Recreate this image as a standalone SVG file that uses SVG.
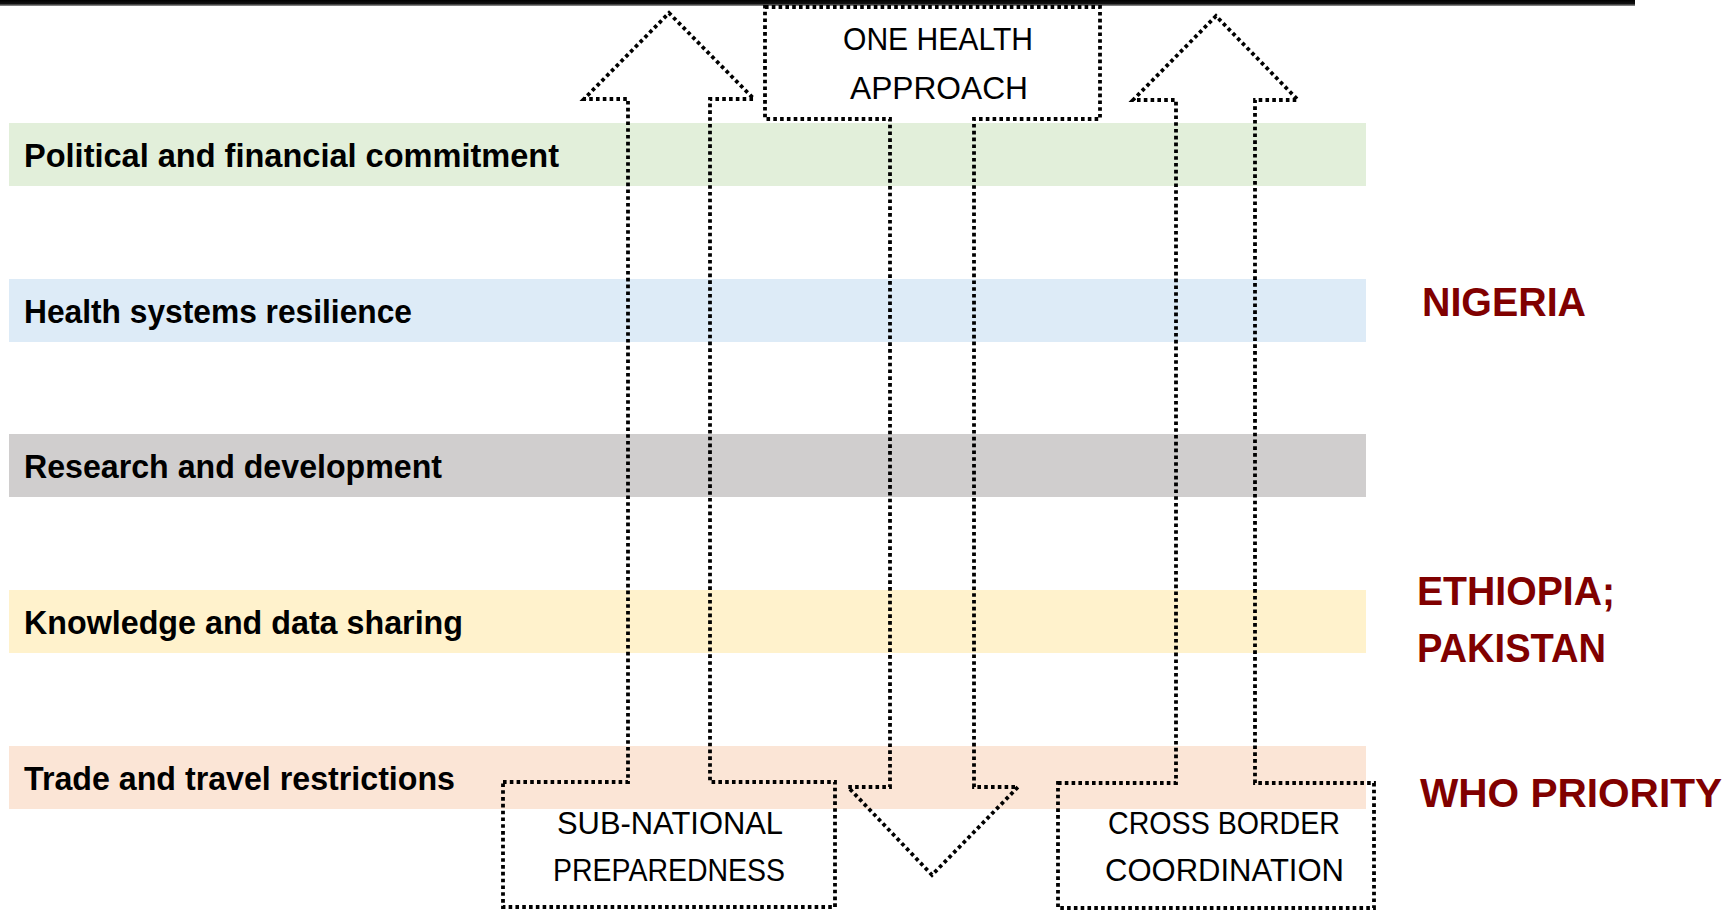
<svg xmlns="http://www.w3.org/2000/svg" width="1728" height="912" viewBox="0 0 1728 912">
  <defs>
    <linearGradient id="topline" x1="0" y1="0" x2="0" y2="1">
      <stop offset="0" stop-color="#000000"/>
      <stop offset="0.6" stop-color="#111111"/>
      <stop offset="1" stop-color="#9a9a9a"/>
    </linearGradient>
  </defs>
  <style>
    .band-label { font-family: "Liberation Sans", Arial, sans-serif; font-weight: bold; font-size: 34px; fill: #000000; }
    .country { font-family: "Liberation Sans", Arial, sans-serif; font-weight: bold; font-size: 41px; fill: #800000; }
    .callout { fill: none; stroke: #000000; stroke-width: 3.8; stroke-dasharray: 3.6 3.2; stroke-linejoin: miter; }
    .callout-text { font-family: "Liberation Sans", Arial, sans-serif; font-size: 32px; fill: #000000; }
  </style>
  <rect x="0" y="0" width="1728" height="912" fill="#ffffff"/>
  <rect x="0" y="0" width="1635" height="6" fill="url(#topline)"/>

  <g id="band-political">
    <rect x="9" y="123" width="1357" height="63" fill="#E2EFDA"/>
    <text class="band-label" x="24" y="167" textLength="535" lengthAdjust="spacingAndGlyphs">Political and financial commitment</text>
  </g>
  <g id="band-health">
    <rect x="9" y="279" width="1357" height="63" fill="#DDEBF7"/>
    <text class="band-label" x="24" y="323" textLength="388" lengthAdjust="spacingAndGlyphs">Health systems resilience</text>
  </g>
  <g id="band-research">
    <rect x="9" y="434" width="1357" height="63" fill="#D0CECE"/>
    <text class="band-label" x="24" y="478" textLength="418" lengthAdjust="spacingAndGlyphs">Research and development</text>
  </g>
  <g id="band-knowledge">
    <rect x="9" y="590" width="1357" height="63" fill="#FFF2CC"/>
    <text class="band-label" x="24" y="634" textLength="439" lengthAdjust="spacingAndGlyphs">Knowledge and data sharing</text>
  </g>
  <g id="band-trade">
    <rect x="9" y="746" width="1357" height="63" fill="#FBE5D6"/>
    <text class="band-label" x="24" y="790" textLength="431" lengthAdjust="spacingAndGlyphs">Trade and travel restrictions</text>
  </g>

  <g id="label-nigeria">
    <text class="country" x="1422" y="316" textLength="164" lengthAdjust="spacingAndGlyphs">NIGERIA</text>
  </g>
  <g id="label-ethiopia-pakistan">
    <text class="country" x="1417" y="605" textLength="198" lengthAdjust="spacingAndGlyphs">ETHIOPIA;</text>
    <text class="country" x="1417" y="662" textLength="189" lengthAdjust="spacingAndGlyphs">PAKISTAN</text>
  </g>
  <g id="label-who">
    <text class="country" x="1420" y="807" font-size="44" textLength="302" lengthAdjust="spacingAndGlyphs">WHO PRIORITY</text>
  </g>

  <g id="connectors"></g>

  <g id="sub-national">
    <path class="callout" d="M 503,782 L 628,782 L 628,99 L 584,99 L 669,13 L 754,99 L 710,99 L 710,782 L 835,782 L 835,907 L 503,907 Z"/>
    <text class="callout-text" x="557" y="834" textLength="226" lengthAdjust="spacingAndGlyphs">SUB-NATIONAL</text>
    <text class="callout-text" x="553" y="881" textLength="232" lengthAdjust="spacingAndGlyphs">PREPAREDNESS</text>
  </g>

  <g id="one-health">
    <path class="callout" d="M 765,7 L 1100,7 L 1100,119 L 974,119 L 974,787 L 1018,787 L 932,875 L 848,787 L 890,787 L 890,119 L 765,119 Z"/>
    <text class="callout-text" x="843" y="50" textLength="190" lengthAdjust="spacingAndGlyphs">ONE HEALTH</text>
    <text class="callout-text" x="850" y="99" textLength="178" lengthAdjust="spacingAndGlyphs">APPROACH</text>
  </g>

  <g id="cross-border">
    <path class="callout" d="M 1058,783 L 1176,783 L 1176,100 L 1133,100 L 1216,16 L 1298,100 L 1255,100 L 1255,783 L 1374,783 L 1374,908 L 1058,908 Z"/>
    <text class="callout-text" x="1108" y="834" textLength="232" lengthAdjust="spacingAndGlyphs">CROSS BORDER</text>
    <text class="callout-text" x="1105" y="881" textLength="239" lengthAdjust="spacingAndGlyphs">COORDINATION</text>
  </g>
</svg>
